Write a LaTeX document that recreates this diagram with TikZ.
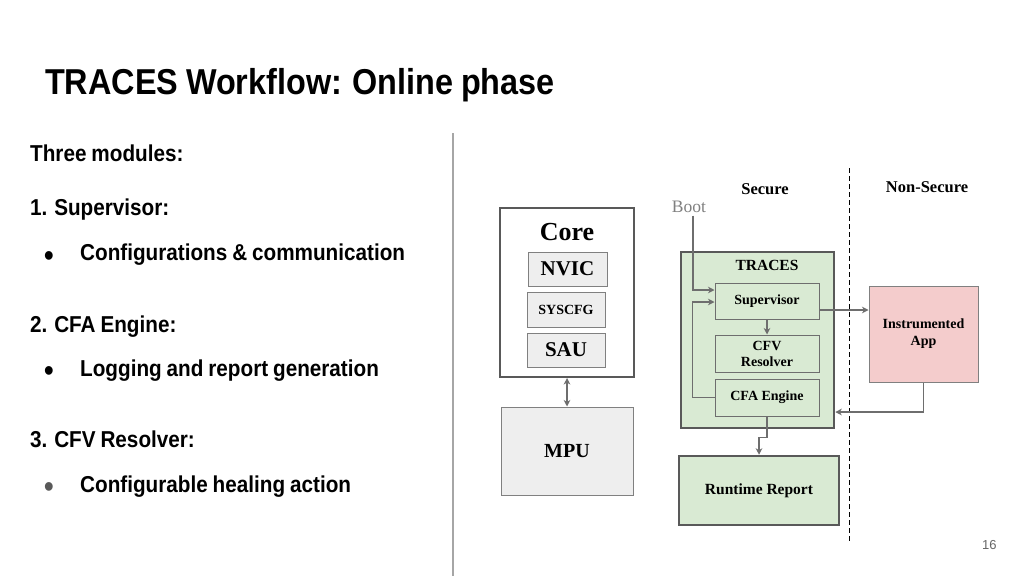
\documentclass[tikz,border=0pt]{standalone}
\usepackage{fontspec}
\setmainfont{Liberation Serif}
\newfontfamily\slidefont[FakeStretch=0.9,WordSpace=0.85]{Liberation Sans}
\newfontfamily\pagefont{Liberation Sans}
\usetikzlibrary{positioning,calc,arrows.meta}
\definecolor{boxgreen}{RGB}{217,234,211}
\definecolor{boxpink}{RGB}{244,204,204}
\definecolor{boxgray}{RGB}{238,238,238}
\definecolor{edgegray}{RGB}{89,89,89}
\definecolor{linegray}{RGB}{110,110,110}

\begin{document}
\begin{tikzpicture}[x=1pt,y=-1pt,>={Stealth[length=6.5pt,width=6.5pt,inset=2pt]},
  slide/.style={anchor=base west,inner sep=0pt,font=\slidefont\bfseries\fontsize{23}{27}\selectfont},
  dot/.style={anchor=base,inner sep=0pt,font=\slidefont\fontsize{32}{34}\selectfont},
  hwbox/.style={draw=gray,fill=boxgray,line width=1pt,inner sep=0pt,font=\bfseries},
  modbox/.style={draw=linegray,fill=boxgreen,line width=1pt,inner sep=0pt,minimum width=104pt,minimum height=37pt,font=\bfseries\fontsize{14}{16}\selectfont,align=center},
  bigbox/.style={draw=edgegray,fill=boxgreen,line width=2.5pt,inner sep=0pt},
  arr/.style={->,draw=linegray,line width=1.2pt}]
\useasboundingbox (0,0) rectangle (1024,576);
\fill[white] (0,0) rectangle (1024,576);

% slide text
\node[anchor=base west,inner sep=0pt,font=\slidefont\bfseries\fontsize{36}{40}\selectfont] (title) at (45,94) {TRACES Workflow: Online phase};
\node[slide] (modules) at (30,161) {Three modules:};
\node[slide] (itemone) at (30,215) {1. Supervisor:};
\node[dot] (dotone) at (49,266.5) {•};
\node[slide] (textone) at (80,260) {Configurations \& communication};
\node[slide] (itemtwo) at (30,332) {2. CFA Engine:};
\node[dot] (dottwo) at (49,381.5) {•};
\node[slide] (texttwo) at (80,376) {Logging and report generation};
\node[slide] (itemthree) at (30,447) {3. CFV Resolver:};
\node[dot,text=black!65] (dotthree) at (49,497.5) {•};
\node[slide] (textthree) at (80,492) {Configurable healing action};
\draw[gray!70,line width=1.5pt] (453,133) -- (453,576);

% core and mpu
\node[draw=edgegray,fill=white,line width=2pt,minimum width=134pt,minimum height=169pt] (core) at (567,292.5) {};
\node[anchor=base,font=\bfseries\fontsize{26}{28}\selectfont] (coretitle) at ([yshift=-33pt]core.north) {Core};
\node[hwbox,minimum width=79pt,minimum height=34pt,font=\bfseries\fontsize{21}{24}\selectfont] (nvic) at (567.5,269) {NVIC};
\node[hwbox,minimum width=78pt,minimum height=35pt,font=\bfseries\fontsize{14}{16}\selectfont] (syscfg) at (566,309.5) {SYSCFG};
\node[hwbox,minimum width=78pt,minimum height=34pt,font=\bfseries\fontsize{21}{24}\selectfont] (sau) at (566,350) {SAU};
\node[hwbox,minimum width=132pt,minimum height=88pt,font=\bfseries\fontsize{20}{24}\selectfont] (mpu) at (567,451) {MPU};
\draw[<->,draw=linegray,line width=1.2pt] (core) -- (mpu);

% secure world
\draw[dashed,line width=1pt,dash pattern=on 5pt off 3pt] (849,168) -- (849,542);
\node[anchor=base,font=\bfseries\fontsize{16.5}{18}\selectfont] (secure) at (765,194) {Secure};
\node[anchor=base,font=\bfseries\fontsize{16.5}{18}\selectfont] (nonsecure) at (927,192) {Non-Secure};
\node[anchor=base,text=gray,font=\fontsize{17.5}{20}\selectfont] (boot) at (689,212) {Boot};

\node[bigbox,minimum width=153pt,minimum height=176pt] (traces) at (757.5,340) {};
\node[modbox,minimum height=36pt] (sup) at (767,301) {Supervisor};
\node[anchor=base,font=\bfseries\fontsize{15.5}{18}\selectfont] (tracestitle) at ([yshift=12pt]sup.north) {TRACES};
\node[modbox] (cfv) at (767,353.5) {CFV\\Resolver};
\node[modbox] (cfa) at (767,397.5) {CFA Engine};
\node[draw=gray,fill=boxpink,line width=1pt,minimum width=109pt,minimum height=96pt,align=center,font=\bfseries\fontsize{14}{17}\selectfont] (app) at (923.5,334) {Instrumented\\App};
\node[bigbox,minimum width=160pt,minimum height=69pt,font=\bfseries\fontsize{15.5}{18}\selectfont] (rep) at (759,490.5) {Runtime Report};

\draw[arr] ([xshift=4pt]boot.south) |- ([yshift=11pt]sup.west);
\draw[arr] (cfa.west) -- ++(-22,0) |- ([yshift=-1pt]sup.west);
\draw[arr] (sup) -- (cfv);
\draw[arr] ([yshift=-9pt]sup.east) -- ([yshift=-9pt]sup.east -| app.west);
\draw[arr] (app.south) |- ([yshift=-72pt]traces.east);
\draw[arr] (cfa.south) -- ++(0,21) -| (rep.north);

\node[anchor=base east,text=gray!80!black,font=\pagefont\fontsize{13}{15}\selectfont] (pagenum) at (1000,549) {16};
\end{tikzpicture}
\end{document}
